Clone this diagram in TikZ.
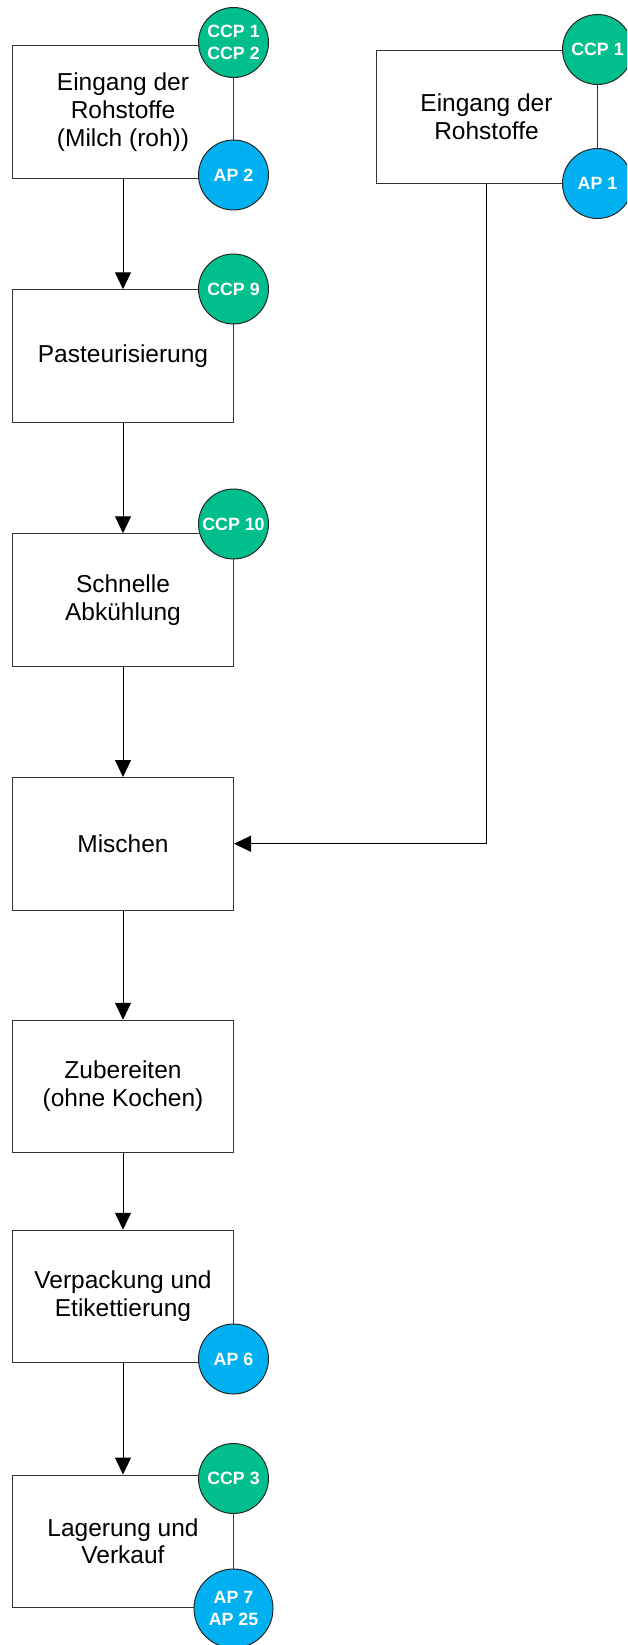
\documentclass[tikz,border=0pt]{standalone}
\usepackage{fontspec}
\setmainfont{Liberation Sans}
\usetikzlibrary{arrows.meta}
\definecolor{ccpgreen}{RGB}{0,191,140}
\definecolor{apblue}{RGB}{0,176,240}
\begin{document}
\begin{tikzpicture}[x=1pt,y=-1pt,
  stepbox/.style={draw=black!80, line width=1pt, fill=white,
    minimum width=221pt, minimum height=132.5pt, inner sep=0pt,
    align=center, font=\fontsize{24.5}{27.8}\selectfont},
  ctrlpt/.style={circle, draw=black!85, line width=1pt, minimum size=70pt,
    inner sep=0pt, align=center, text=white,
    font=\bfseries\fontsize{17.8}{21.5}\selectfont},
  ccp/.style={ctrlpt, fill=ccpgreen},
  ap/.style={ctrlpt, fill=apblue},
  flow/.style={line width=1pt, -{Triangle[length=17pt,width=16pt]}}]
\useasboundingbox (0,0) rectangle (627,1645);
\clip (0,0) rectangle (627,1645);

% process steps, main line
\node[stepbox] (b1) at (123,112.25) {Eingang der\\Rohstoffe\\(Milch (roh))};
\node[stepbox] (b2) at (123,356) {Pasteurisierung};
\node[stepbox] (b3) at (123,600) {Schnelle\\Abkühlung};
\node[stepbox] (b4) at (123,843.75) {Mischen};
\node[stepbox] (b5) at (123,1086.5) {Zubereiten\\(ohne Kochen)};
\node[stepbox] (b6) at (123,1296.5) {Verpackung und\\Etikettierung};
\node[stepbox] (b7) at (123,1541.25) {Lagerung und\\Verkauf};
% side supply
\node[stepbox] (r1) at (486.5,117) {Eingang der\\Rohstoffe};

% flow connectors
\draw[flow] (b1.south) -- (b2.north);
\draw[flow] (b2.south) -- (b3.north);
\draw[flow] (b3.south) -- (b4.north);
\draw[flow] (b4.south) -- (b5.north);
\draw[flow] (b5.south) -- (b6.north);
\draw[flow] (b6.south) -- (b7.north);
\draw[flow] (r1.south) |- (b4.east);

% control points
\node[ccp] (c12) at (233.5,42.5) {CCP 1\\CCP 2};
\node[ap]  (a2)  at (233.5,175) {AP 2};
\node[ccp] (c9)  at (233.5,289) {CCP 9};
\node[ccp] (c10) at (233.5,524) {CCP 10};
\node[ap]  (a6)  at (233.5,1359) {AP 6};
\node[ccp] (c3)  at (233.5,1478.5) {CCP 3};
\node[ap, minimum size=79pt] (a725) at (233.5,1608.5) {AP 7\\AP 25};
\node[ccp] (c1)  at (597.5,49.5) {CCP 1};
\node[ap]  (a1)  at (597.5,183.5) {AP 1};
\end{tikzpicture}
\end{document}
